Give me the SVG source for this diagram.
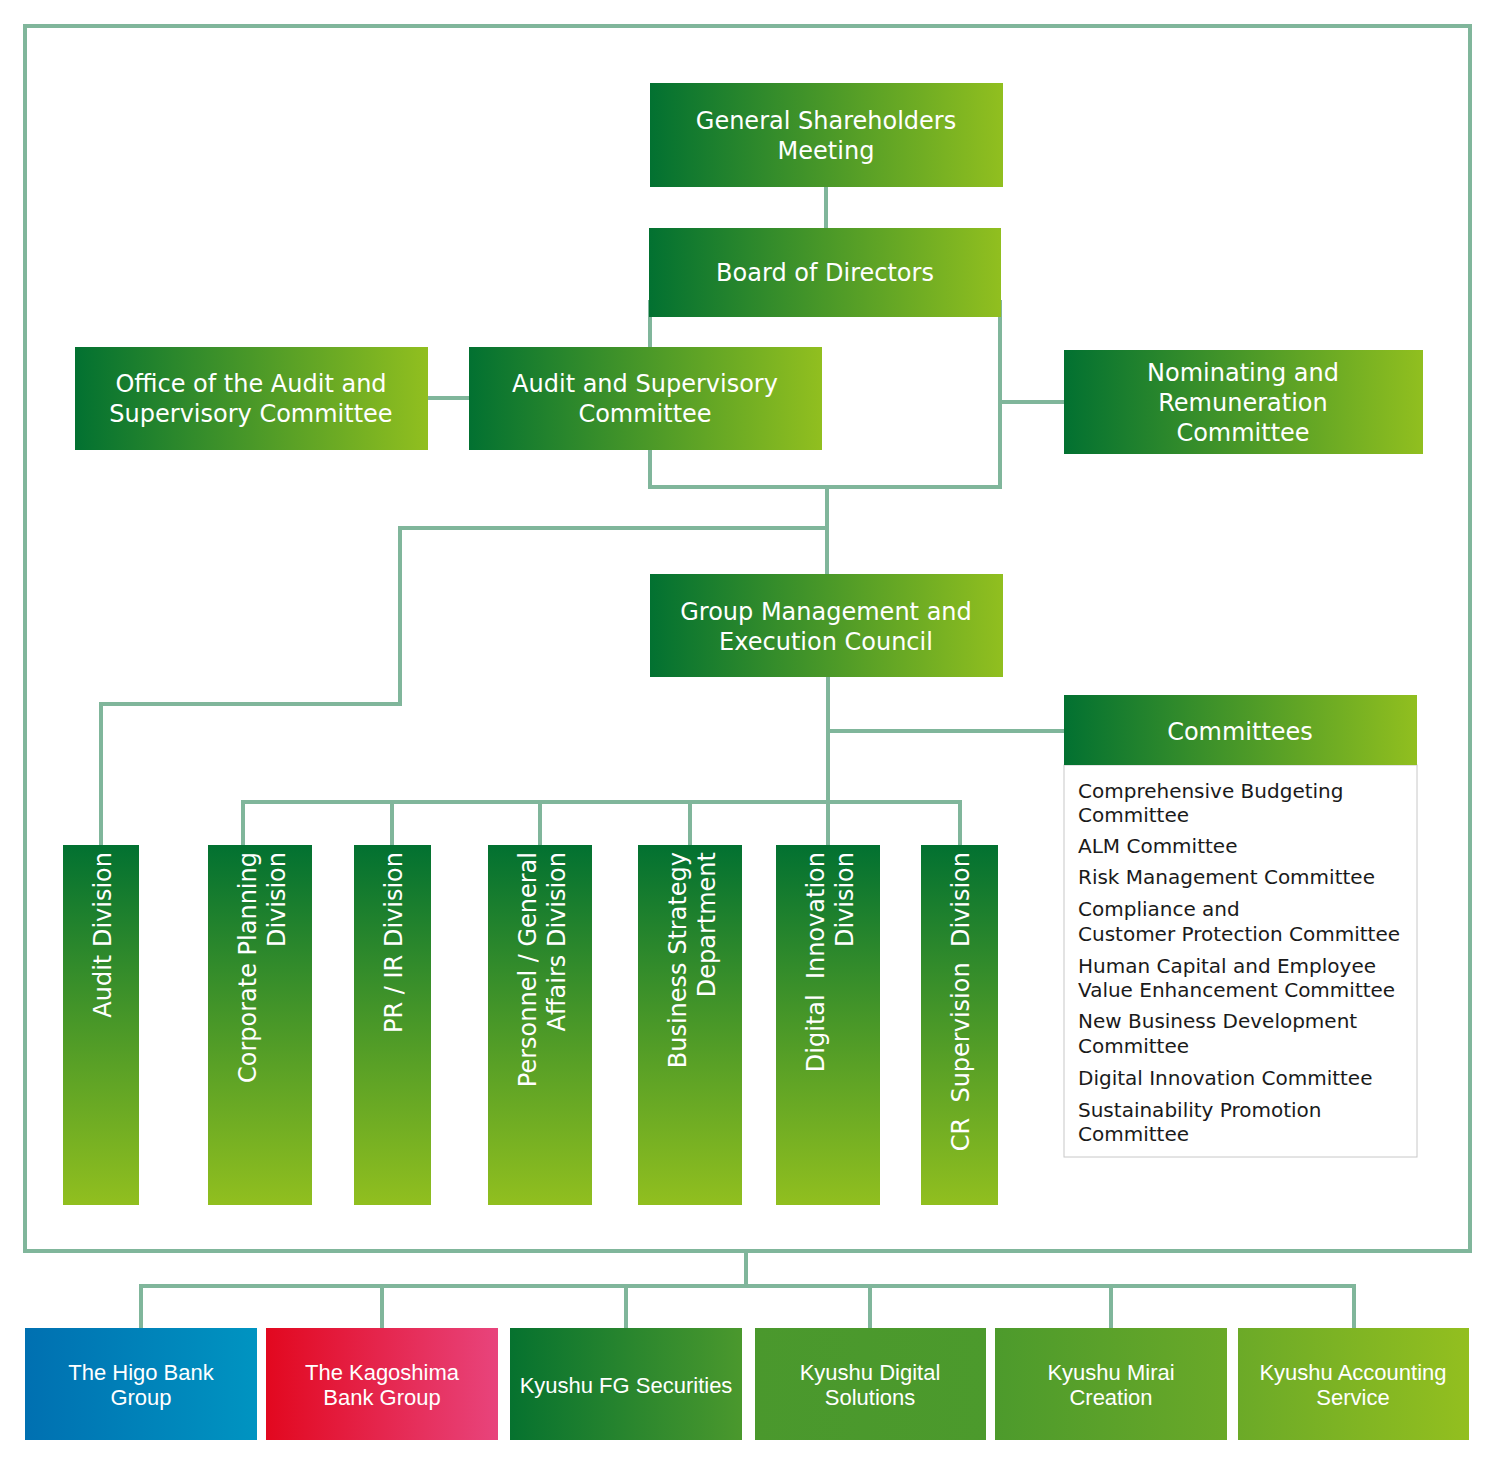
<svg xmlns="http://www.w3.org/2000/svg" width="1500" height="1469" viewBox="0 0 1500 1469">
<style>
.ln{fill:none;stroke:#80b69b;stroke-width:4}
.t{font-family:"DejaVu Sans","Noto Sans",sans-serif;font-size:24px;fill:#ffffff;text-anchor:middle}
.vt{font-family:"DejaVu Sans","Noto Sans",sans-serif;font-size:24px;fill:#ffffff;text-anchor:end}
.lt{font-family:"DejaVu Sans","Noto Sans",sans-serif;font-size:20px;fill:#1a1a1a}
.bt{font-family:"Liberation Sans",Arial,sans-serif;font-size:22px;fill:#ffffff;text-anchor:middle}
</style>
<defs>
<linearGradient id="gh" x1="0" y1="0" x2="1" y2="0">
<stop offset="0" stop-color="#027131"/><stop offset="1" stop-color="#91bf1f"/>
</linearGradient>
<linearGradient id="gv" x1="0" y1="0" x2="0" y2="1">
<stop offset="0" stop-color="#027131"/><stop offset="1" stop-color="#91bf1f"/>
</linearGradient>
<linearGradient id="gblue" x1="0" y1="0" x2="1" y2="0">
<stop offset="0" stop-color="#0070b1"/><stop offset="1" stop-color="#0094c1"/>
</linearGradient>
<linearGradient id="gred" x1="0" y1="0" x2="1" y2="0">
<stop offset="0" stop-color="#e2081f"/><stop offset="1" stop-color="#e8447c"/>
</linearGradient>
<linearGradient id="gsub" gradientUnits="userSpaceOnUse" x1="510" y1="0" x2="1469" y2="0">
<stop offset="0" stop-color="#06722f"/>
<stop offset="0.24" stop-color="#4a982d"/>
<stop offset="0.5" stop-color="#4c9a2c"/>
<stop offset="0.75" stop-color="#6aa928"/>
<stop offset="1" stop-color="#93bf1f"/>
</linearGradient>
</defs>
<rect width="1500" height="1469" fill="#ffffff"/>
<g id="connectors">
<rect class="ln" x="25" y="26" width="1445" height="1225"/>
<path class="ln" d="M826 187V228"/>
<path class="ln" d="M650 300V487H1000V300"/>
<path class="ln" d="M1000 402H1064"/>
<path class="ln" d="M428 398H469"/>
<path class="ln" d="M827 487V574"/>
<path class="ln" d="M827 528H400V704H101V845"/>
<path class="ln" d="M828 677V845"/>
<path class="ln" d="M828 731H1064"/>
<path class="ln" d="M243 845V802H960V845"/>
<path class="ln" d="M392 802V845M540 802V845M690 802V845"/>
<path class="ln" d="M746 1251V1286"/>
<path class="ln" d="M141 1328V1286H1354V1328"/>
<path class="ln" d="M382 1286V1328M626 1286V1328M870 1286V1328M1111 1286V1328"/>
</g>
<g id="general-shareholders-meeting">
<rect x="650" y="83" width="353" height="104" fill="url(#gh)"/>
<text class="t" x="826" y="129">General Shareholders</text>
<text class="t" x="826" y="159">Meeting</text>
</g>
<g id="board-of-directors">
<rect x="649" y="228" width="352" height="89" fill="url(#gh)"/>
<text class="t" x="825" y="281">Board of Directors</text>
</g>
<g id="office-audit-supervisory">
<rect x="75" y="347" width="353" height="103" fill="url(#gh)"/>
<text class="t" x="251" y="392">Office of the Audit and</text>
<text class="t" x="251" y="422">Supervisory Committee</text>
</g>
<g id="audit-supervisory-committee">
<rect x="469" y="347" width="353" height="103" fill="url(#gh)"/>
<text class="t" x="645" y="392">Audit and Supervisory</text>
<text class="t" x="645" y="422">Committee</text>
</g>
<g id="nominating-remuneration">
<rect x="1064" y="350" width="359" height="104" fill="url(#gh)"/>
<text class="t" x="1243" y="381">Nominating and</text>
<text class="t" x="1243" y="411">Remuneration</text>
<text class="t" x="1243" y="441">Committee</text>
</g>
<g id="group-management-council">
<rect x="650" y="574" width="353" height="103" fill="url(#gh)"/>
<text class="t" x="826" y="620">Group Management and</text>
<text class="t" x="826" y="650">Execution Council</text>
</g>
<g id="committees">
<rect x="1064" y="765" width="353" height="392" fill="#ffffff" stroke="#c8c8c8" stroke-width="1"/>
<rect x="1064" y="695" width="353" height="70" fill="url(#gh)"/>
<text class="t" x="1240" y="740">Committees</text>
<text class="lt" x="1078" y="798">Comprehensive Budgeting</text>
<text class="lt" x="1078" y="822">Committee</text>
<text class="lt" x="1078" y="853">ALM Committee</text>
<text class="lt" x="1078" y="884">Risk Management Committee</text>
<text class="lt" x="1078" y="916">Compliance and</text>
<text class="lt" x="1078" y="941">Customer Protection Committee</text>
<text class="lt" x="1078" y="973">Human Capital and Employee</text>
<text class="lt" x="1078" y="997">Value Enhancement Committee</text>
<text class="lt" x="1078" y="1028">New Business Development</text>
<text class="lt" x="1078" y="1053">Committee</text>
<text class="lt" x="1078" y="1085">Digital Innovation Committee</text>
<text class="lt" x="1078" y="1117">Sustainability Promotion</text>
<text class="lt" x="1078" y="1141">Committee</text>
</g>
<g id="audit-division">
<rect x="63" y="845" width="76" height="360" fill="url(#gv)"/>
<text class="vt" transform="translate(111 852) rotate(-90)">Audit Division</text>
</g>
<g id="corporate-planning-division">
<rect x="208" y="845" width="104" height="360" fill="url(#gv)"/>
<text class="vt" transform="translate(256 852) rotate(-90)">Corporate Planning</text>
<text class="vt" transform="translate(285 852) rotate(-90)">Division</text>
</g>
<g id="pr-ir-division">
<rect x="354" y="845" width="77" height="360" fill="url(#gv)"/>
<text class="vt" transform="translate(402 852) rotate(-90)">PR / IR Division</text>
</g>
<g id="personnel-general-affairs-division">
<rect x="488" y="845" width="104" height="360" fill="url(#gv)"/>
<text class="vt" transform="translate(536 852) rotate(-90)">Personnel / General</text>
<text class="vt" transform="translate(565 852) rotate(-90)">Affairs Division</text>
</g>
<g id="business-strategy-department">
<rect x="638" y="845" width="104" height="360" fill="url(#gv)"/>
<text class="vt" transform="translate(686 852) rotate(-90)">Business Strategy</text>
<text class="vt" transform="translate(715 852) rotate(-90)">Department</text>
</g>
<g id="digital-innovation-division">
<rect x="776" y="845" width="104" height="360" fill="url(#gv)"/>
<text class="vt" xml:space="preserve" transform="translate(824 852) rotate(-90)">Digital  Innovation</text>
<text class="vt" transform="translate(853 852) rotate(-90)">Division</text>
</g>
<g id="cr-supervision-division">
<rect x="921" y="845" width="77" height="360" fill="url(#gv)"/>
<text class="vt" xml:space="preserve" transform="translate(969 852) rotate(-90)">CR  Supervision  Division</text>
</g>
<g id="higo-bank-group">
<rect x="25" y="1328" width="232" height="112" fill="url(#gblue)"/>
<text class="bt" x="141" y="1380">The Higo Bank</text>
<text class="bt" x="141" y="1405">Group</text>
</g>
<g id="kagoshima-bank-group">
<rect x="266" y="1328" width="232" height="112" fill="url(#gred)"/>
<text class="bt" x="382" y="1380">The Kagoshima</text>
<text class="bt" x="382" y="1405">Bank Group</text>
</g>
<g id="kyushu-fg-securities">
<rect x="510" y="1328" width="232" height="112" fill="url(#gsub)"/>
<text class="bt" x="626" y="1393">Kyushu FG Securities</text>
</g>
<g id="kyushu-digital-solutions">
<rect x="755" y="1328" width="231" height="112" fill="url(#gsub)"/>
<text class="bt" x="870" y="1380">Kyushu Digital</text>
<text class="bt" x="870" y="1405">Solutions</text>
</g>
<g id="kyushu-mirai-creation">
<rect x="995" y="1328" width="232" height="112" fill="url(#gsub)"/>
<text class="bt" x="1111" y="1380">Kyushu Mirai</text>
<text class="bt" x="1111" y="1405">Creation</text>
</g>
<g id="kyushu-accounting-service">
<rect x="1238" y="1328" width="231" height="112" fill="url(#gsub)"/>
<text class="bt" x="1353" y="1380">Kyushu Accounting</text>
<text class="bt" x="1353" y="1405">Service</text>
</g>
</svg>
